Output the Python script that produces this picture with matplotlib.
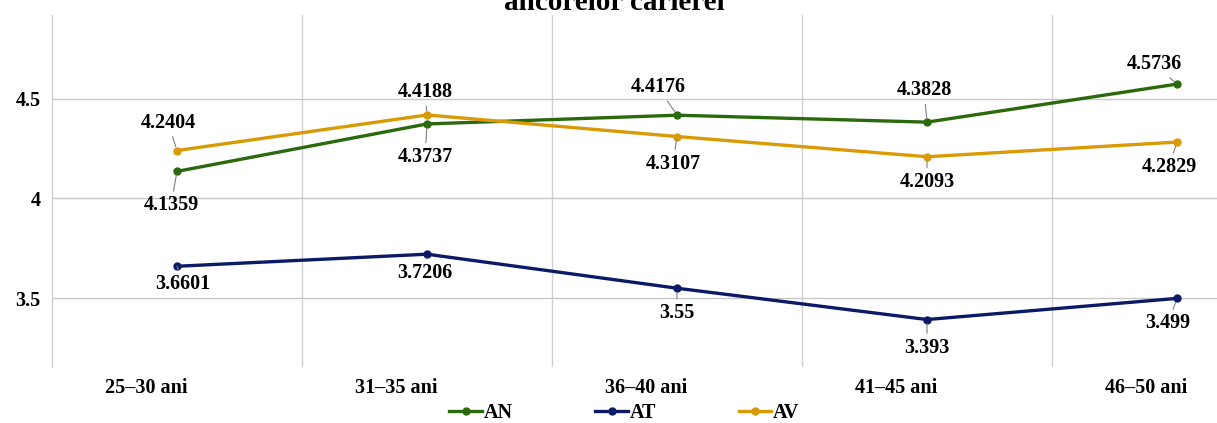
import matplotlib.pyplot as plt
from matplotlib.transforms import ScaledTranslation

categories = ['25–30 ani', '31–35 ani', '36–40 ani', '41–45 ani', '46–50 ani']
an = [4.1359, 4.3737, 4.4176, 4.3828, 4.5736]
at = [3.6601, 3.7206, 3.55, 3.393, 3.499]
av = [4.2404, 4.4188, 4.3107, 4.2093, 4.2829]

# label offsets in pixels (dx, dy)
off_an = [(-6, -34), (-2, -33), (-19, 28), (-3, 32), (-23, 20)]
off_at = [(6, -18), (-2, -19), (0, -25), (0, -28), (-9, -25)]
off_av = [(-9, 28), (-2, 23), (-4, -27), (0, -25), (-8, -25)]

plt.rcParams['font.family'] = ['Liberation Serif', 'DejaVu Serif']
plt.rcParams['font.weight'] = 'bold'

fig = plt.figure(figsize=(12.17, 4.23), dpi=100)
W, H = 1217, 423
ax = fig.add_axes([52 / W, 56 / H, 1250 / W, 352 / H])

x = list(range(len(categories)))
series = [('AN', an, '#2b6a0c', off_an),
          ('AT', at, '#0b1a66', off_at),
          ('AV', av, '#d99a05', off_av)]
for name, vals, col, offs in series:
    ax.plot(x, vals, color=col, lw=2.4, marker='o', ms=5, label=name)
    for xi, v, (dx, dy) in zip(x, vals, offs):
        ax.annotate(f'{v:g}', (xi, v), xytext=(dx, dy), textcoords='offset pixels',
                    ha='center', va='center', fontsize=14.5, fontweight='bold',
                    arrowprops=dict(arrowstyle='-', color='#808080', lw=0.8,
                                    shrinkA=1, shrinkB=3))

ax.set_xlim(-0.5, 4.5)
ax.set_ylim(3.155, 4.92)
ax.set_yticks([3.5, 4, 4.5])
ax.set_yticklabels(['3.5', '4', '4.5'])
ax.set_xticks(x)
ax.set_xticklabels(categories)
ax.set_xticks([0.5, 1.5, 2.5, 3.5], minor=True)
ax.grid(True, which='minor', axis='x', color='#d0d0d0', lw=1)
ax.grid(True, which='major', axis='y', color='#c8c8c8', lw=1)
ax.set_axisbelow(True)
ax.tick_params(length=0, which='both', labelsize=14.5, pad=8)
for lab in ax.get_xticklabels():
    lab.set_transform(lab.get_transform() + ScaledTranslation(-0.31, 0, fig.dpi_scale_trans))
for s in ['top', 'right', 'bottom']:
    ax.spines[s].set_visible(False)
ax.spines['left'].set_color('#c8c8c8')

fig.text(0.505, 1 - 10 / H, 'ancorelor carierei', ha='center', va='baseline',
         fontsize=21, fontweight='bold')

fig.legend(loc='center', bbox_to_anchor=(0.513, 1 - 413 / H), ncol=3, frameon=False,
           fontsize=14.5, handlelength=1.6, columnspacing=4.1, handletextpad=0.1,
           borderpad=0.1)

fig.savefig('out.png', dpi=100)
